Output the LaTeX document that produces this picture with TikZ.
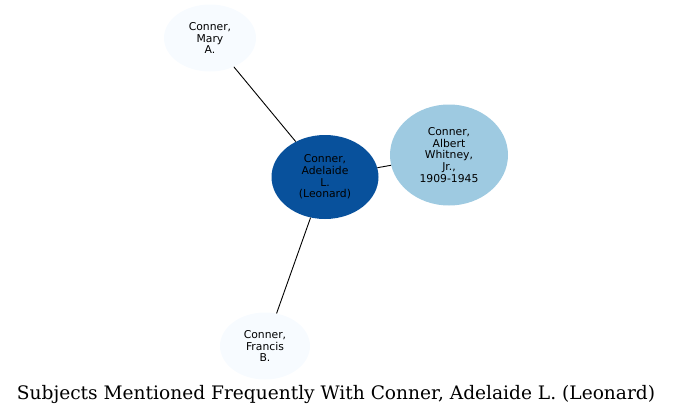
\documentclass[tikz,border=0pt]{standalone}
\usepackage{fontspec}
\newfontfamily\subjfont{DejaVu Sans}
\newfontfamily\titlefont{DejaVu Serif}
\usetikzlibrary{shapes.geometric}
\definecolor{paleblue}{RGB}{247,251,255}
\definecolor{deepblue}{RGB}{8,81,156}
\definecolor{midblue}{RGB}{158,202,225}

\begin{document}
\begin{tikzpicture}[
    x=1pt, y=-1pt,
    every node/.style={align=center},
    subjnode/.style={ellipse, inner sep=0pt, font=\subjfont\fontsize{10.8}{11.8}\selectfont},
    link/.style={line width=0.9pt, draw=black}
]
\useasboundingbox (0,0) rectangle (673,415);

% Subject nodes
\node[subjnode, fill=paleblue, minimum width=92pt, minimum height=67pt] (mary) at (210,38) {Conner,\\Mary\\A.};
\node[subjnode, fill=deepblue, minimum width=107pt, minimum height=84pt] (adelaide) at (325,177) {Conner,\\Adelaide\\L.\\(Leonard)};
\node[subjnode, fill=midblue, minimum width=118pt, minimum height=101pt] (albert) at (449,155) {Conner,\\Albert\\Whitney,\\Jr.,\\1909-1945};
\node[subjnode, fill=paleblue, minimum width=90pt, minimum height=67pt] (francis) at (265,346) {Conner,\\Francis\\B.};

% Title
\node[font=\titlefont\fontsize{18.6}{21}\selectfont, anchor=base] (title) at (336,399) {Subjects Mentioned Frequently With Conner, Adelaide L. (Leonard)};

% Connections
\draw[link] (mary) -- (adelaide);
\draw[link] (adelaide) -- (albert);
\draw[link] (adelaide) -- (francis);

\end{tikzpicture}
\end{document}
